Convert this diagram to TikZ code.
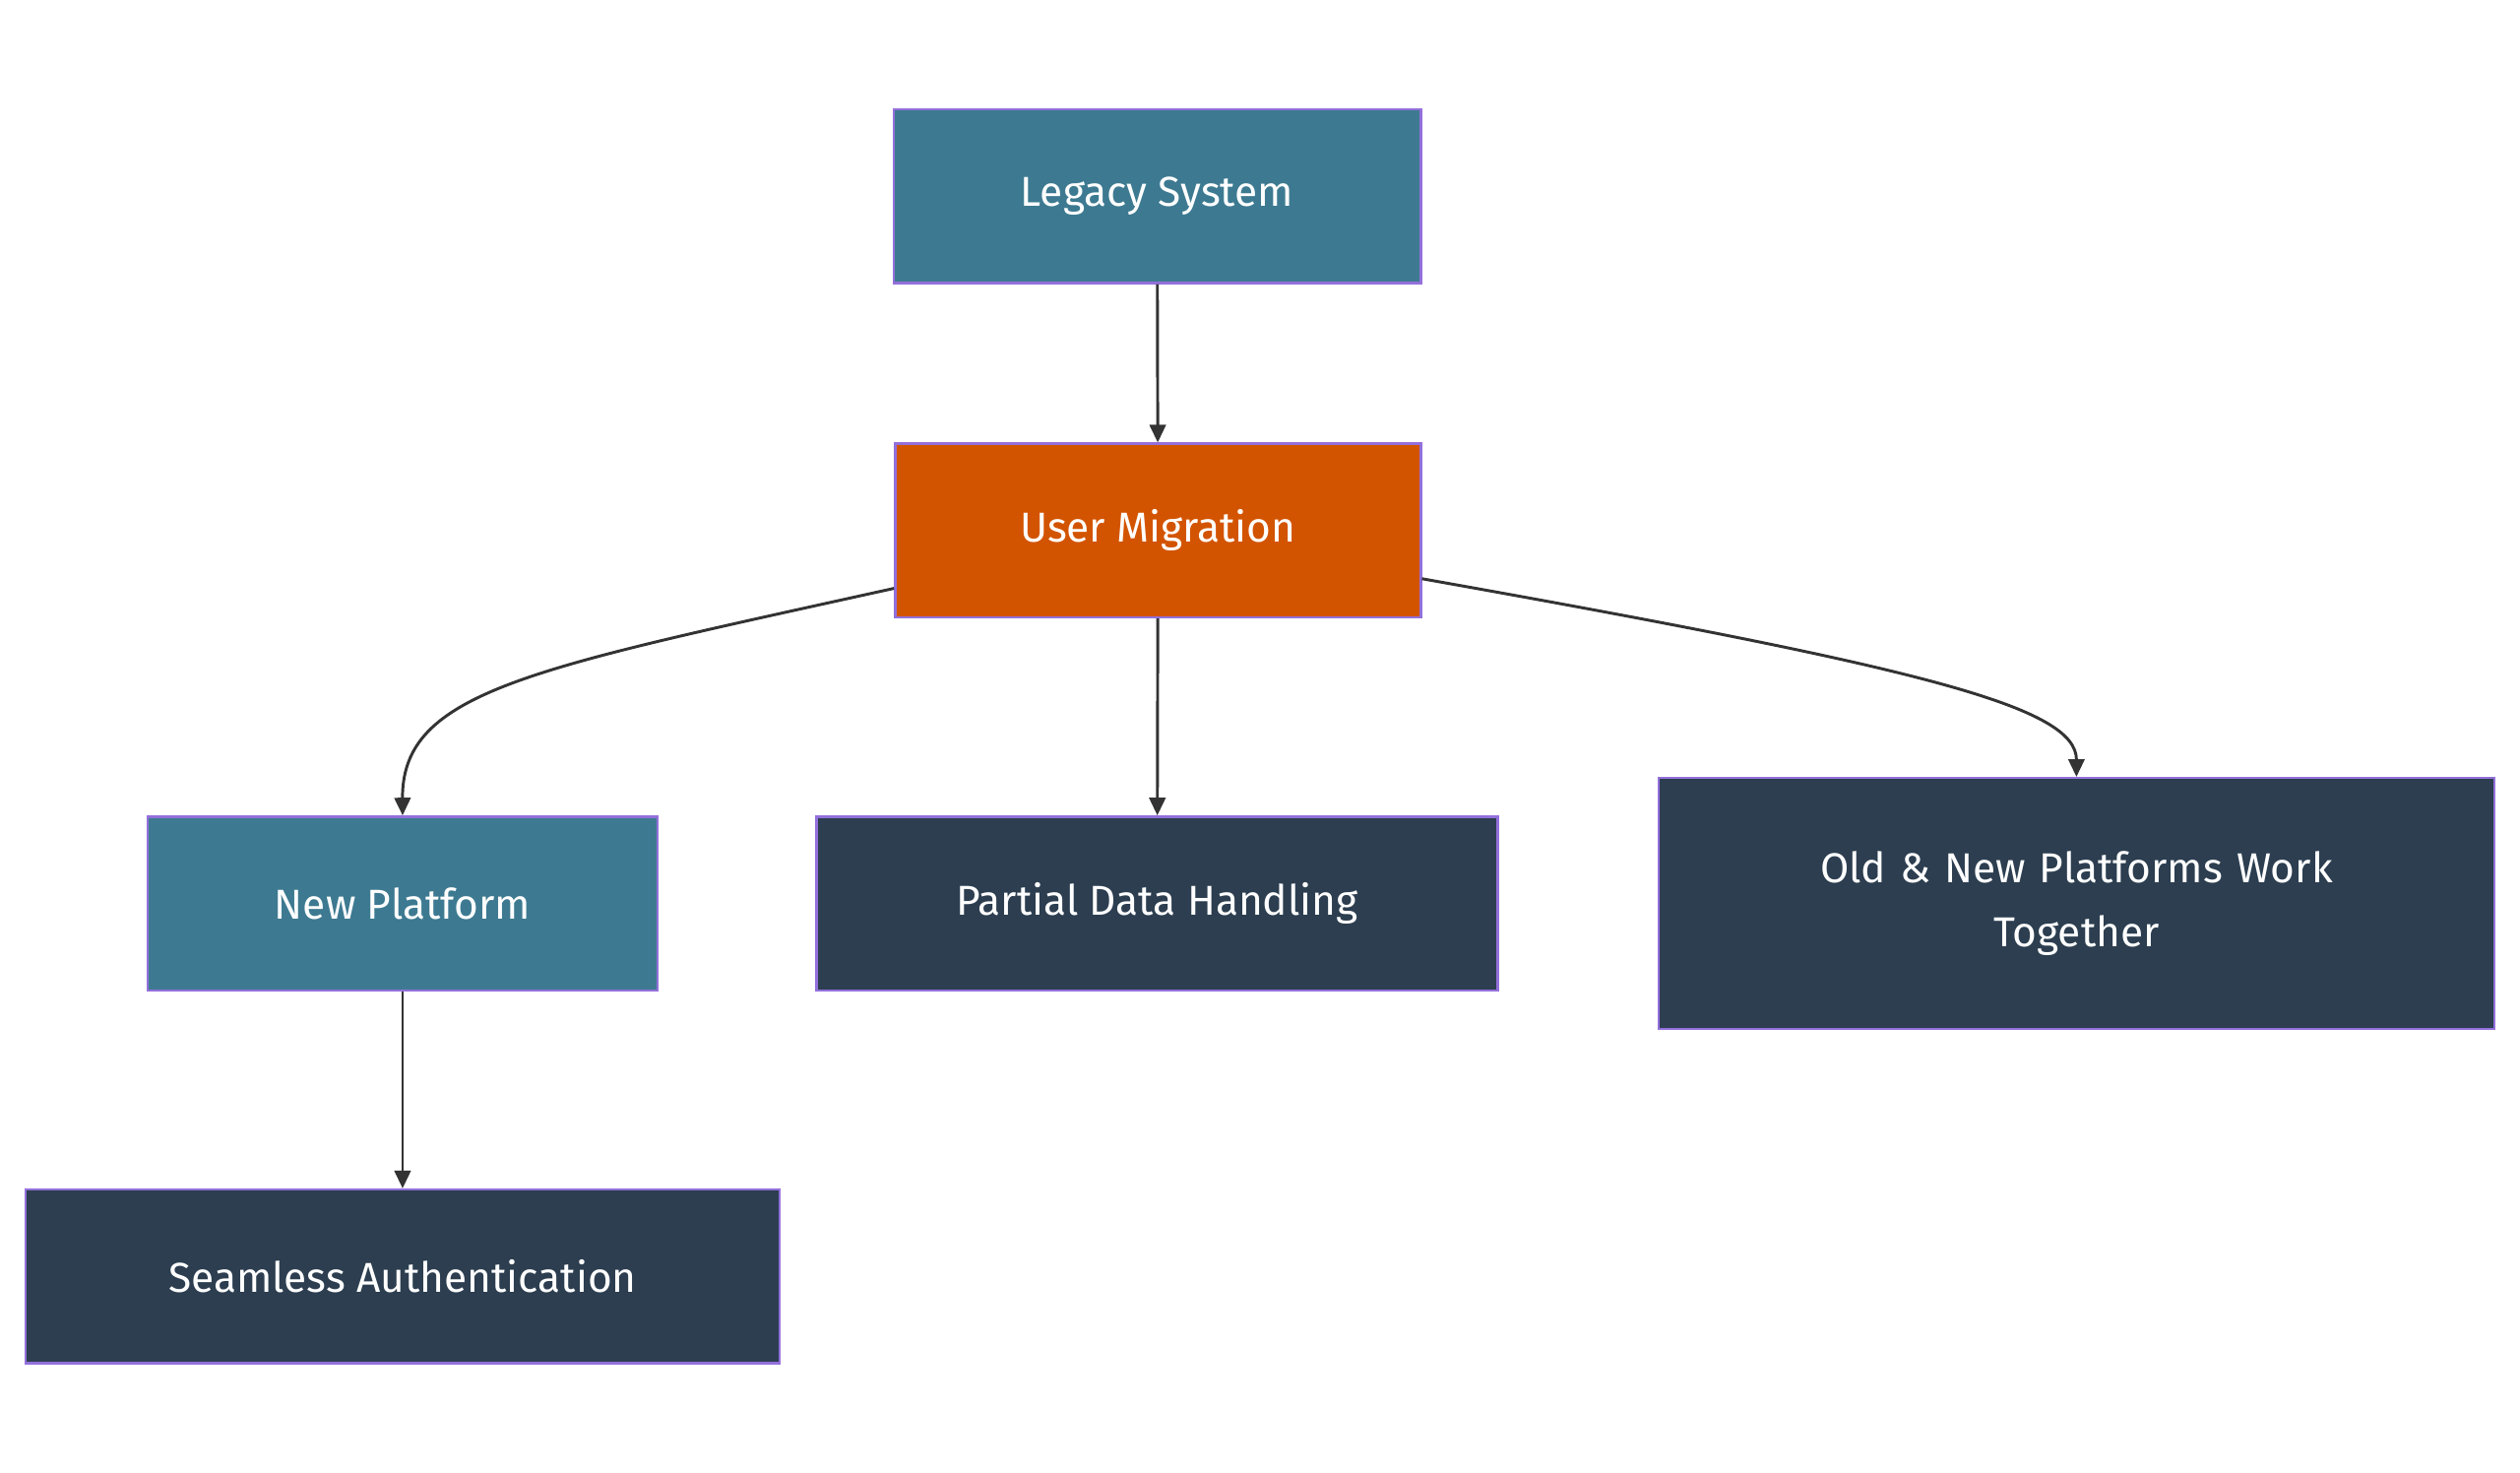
\documentclass[tikz,border=0pt]{standalone}
\usepackage{fontspec}
\setmainfont{Fira Sans}
\usetikzlibrary{arrows.meta}
\definecolor{teal}{HTML}{3D7A91}
\definecolor{orng}{HTML}{D35400}
\definecolor{dark}{HTML}{2C3E50}
\definecolor{bord}{HTML}{9370DB}
\definecolor{edge}{HTML}{333333}
\begin{document}
\begin{tikzpicture}[x=1pt,y=-1pt,
  box/.style={draw=bord,line width=1.5pt,text=white,font=\fontsize{26}{40}\selectfont,align=center,inner sep=0pt},
  arr/.style={draw=edge,line width=1.8pt,-{Triangle[length=11pt,width=10pt]}}]
\useasboundingbox (0,0) rectangle (1568,916);
\node[box,fill=teal,minimum width=328pt,minimum height=108pt] (L) at (720,122) {Legacy System};
\node[box,fill=orng,minimum width=327pt,minimum height=108pt] (U) at (720.5,330) {User Migration};
\node[box,fill=teal,minimum width=317pt,minimum height=108pt] (N) at (250.5,562) {New Platform};
\node[box,fill=dark,minimum width=424pt,minimum height=108pt] (P) at (720,562) {Partial Data Handling};
\node[box,fill=dark,minimum width=520pt,minimum height=156pt,text width=420pt] (O) at (1292,562) {Old \& New Platforms Work\\Together};
\node[box,fill=dark,minimum width=469pt,minimum height=108pt] (S) at (250.5,794) {Seamless Authentication};
\draw[arr] (L) -- (U);
\draw[arr] (U) -- (P);
\draw[arr] (N) -- (S);
\draw[arr] (U.west |- 0,366) .. controls (330,416) and (250,430) .. (N.north);
\draw[arr] (U.east |- 0,360) .. controls (1200,416) and (1292,440) .. (O.north);
\end{tikzpicture}
\end{document}
